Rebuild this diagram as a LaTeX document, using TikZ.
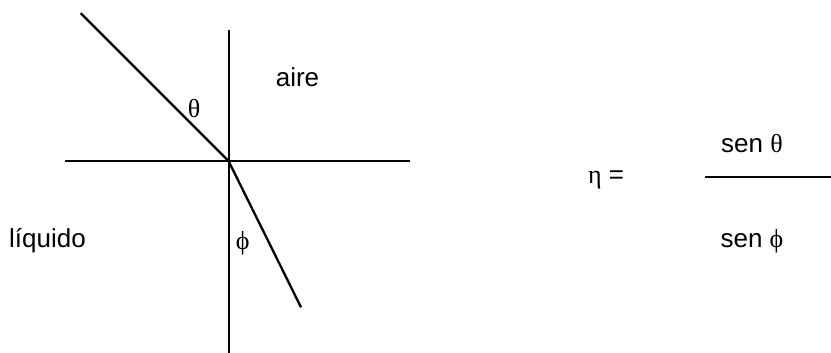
\documentclass[tikz,border=0pt]{standalone}
\usepackage{fontspec}
\setmainfont{Liberation Sans}
\newfontfamily\grk{Liberation Serif}
\usetikzlibrary{positioning}

\begin{document}
\begin{tikzpicture}[x=0.5pt, y=-0.5pt,
  ray/.style={line width=1.15pt, black},
  lbl/.style={inner sep=0pt, font=\fontsize{13}{15}\selectfont},
  ang/.style={inner sep=0pt, font=\fontsize{13}{15}\selectfont\grk}
]
  \useasboundingbox (0,0) rectangle (831,353);
  % interface and normal
  \coordinate (o) at (228.7,161.3);
  \coordinate (ntop) at (228.7,30);
  \coordinate (nbot) at (228.7,353);
  \coordinate (sleft) at (65,161.3);
  \coordinate (sright) at (410,161.3);
  % rays
  \coordinate (inc) at (80.7,13.3);
  \coordinate (refr) at (301,307.3);

  \draw[ray] (ntop) -- (nbot);
  \draw[ray] (sleft) -- (sright);
  \draw[ray] (inc) -- (o);
  \draw[ray] (o) -- (refr);

  \node[lbl] (aire) at (297.5,77.7) {aire};
  \node[lbl] (liq) at (47.5,241) {líquido};
  \node[ang] (theta) at (194,109) {θ};
  \node[ang] (phi) at (242.7,243.7) {ϕ};

  % formula
  \coordinate (fl) at (705,177.3);
  \coordinate (fr) at (831,177.3);
  \draw[ray] (fl) -- (fr);
  \node[lbl] (eta) at (606,180) {{\grk η} =};
  \node[lbl] (num) at (752,143.3) {sen {\grk θ}};
  \node[lbl, below=49pt of num.center, anchor=center] (den) {sen {\grk ϕ}};
\end{tikzpicture}
\end{document}
